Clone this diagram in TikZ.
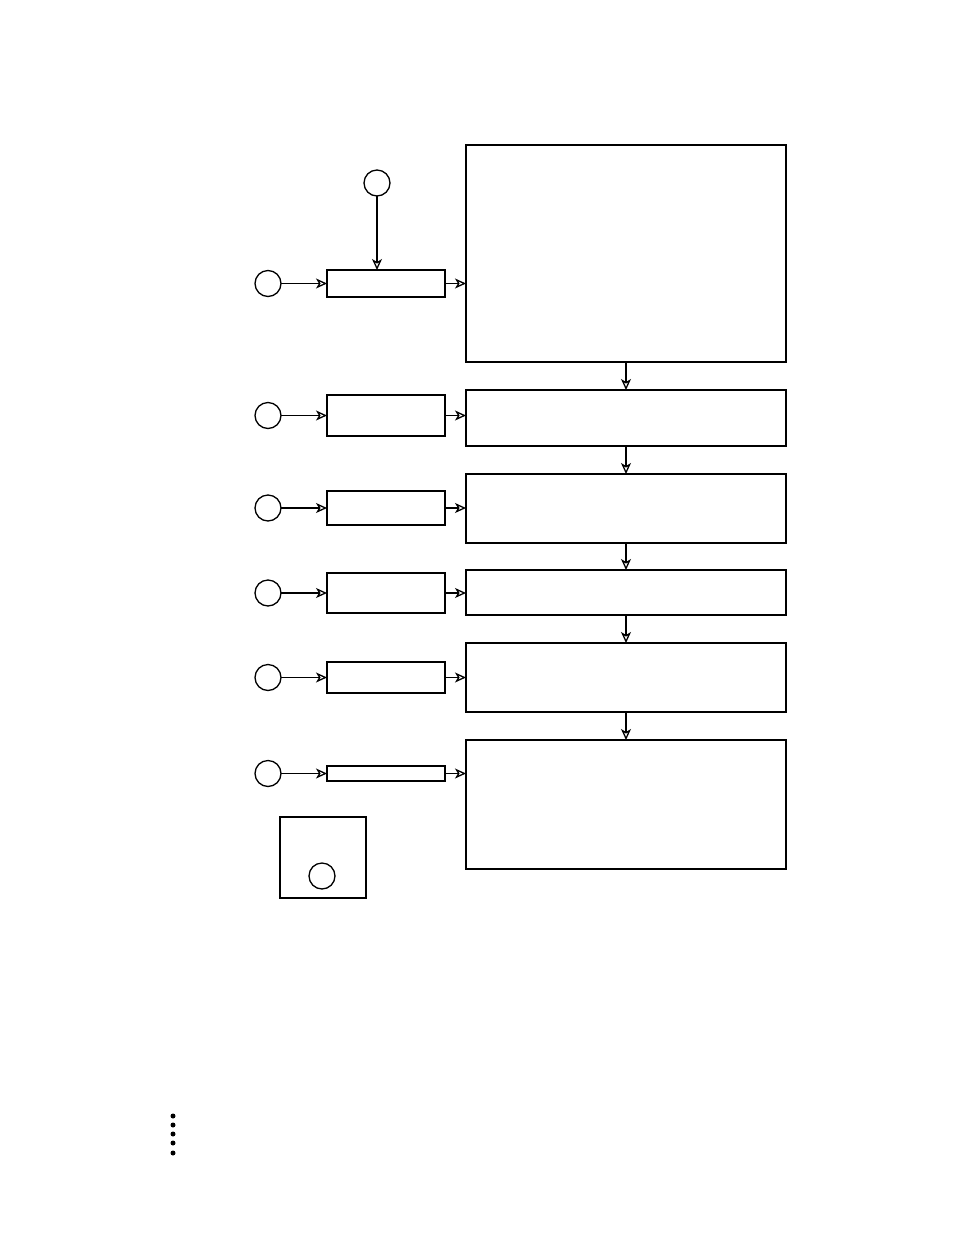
\documentclass[tikz,border=0pt]{standalone}
\usetikzlibrary{arrows.meta}
\begin{document}
\begin{tikzpicture}[x=1pt,y=-1pt,
  line width=1.3pt,
  circ/.style={draw,circle,minimum size=26pt,inner sep=0pt,outer sep=0pt},
  smallbox/.style={draw,rectangle,minimum width=118pt,inner sep=0pt,outer sep=0pt},
  bigbox/.style={draw,rectangle,minimum width=320pt,inner sep=0pt,outer sep=0pt},
  dotnode/.style={fill,circle,minimum size=5pt,inner sep=0pt},
  arr/.style={-{Stealth[open,length=11pt,width=10pt,inset=3pt]}}]
\useasboundingbox (0,0) rectangle (954,1235);
% right boxes
\node[bigbox,minimum height=217pt] (r1) at (626,253.5) {};
\node[bigbox,minimum height=56pt] (r2) at (626,418) {};
\node[bigbox,minimum height=69pt] (r3) at (626,508.5) {};
\node[bigbox,minimum height=45pt] (r4) at (626,592.5) {};
\node[bigbox,minimum height=69pt] (r5) at (626,677.5) {};
\node[bigbox,minimum height=129pt] (r6) at (626,804.5) {};
% small boxes
\node[smallbox,minimum height=27pt] (b1) at (386,283.5) {};
\node[smallbox,minimum height=41pt] (b2) at (386,415.5) {};
\node[smallbox,minimum height=34pt] (b3) at (386,508) {};
\node[smallbox,minimum height=40pt] (b4) at (386,593) {};
\node[smallbox,minimum height=31pt] (b5) at (386,677.5) {};
\node[smallbox,minimum height=15pt] (b6) at (386,773.5) {};
% circles
\node[circ] (c0) at (377,183) {};
\node[circ] (c1) at (268,283.5) {};
\node[circ] (c2) at (268,415.5) {};
\node[circ] (c3) at (268,508) {};
\node[circ] (c4) at (268,593) {};
\node[circ] (c5) at (268,677.5) {};
\node[circ] (c6) at (268,773.5) {};
% legend box
\node[draw,rectangle,minimum width=86pt,minimum height=81pt,inner sep=0pt] (leg) at (323,857.5) {};
\node[circ] (lc) at (322,876) {};
% arrows
\draw[arr] (c0) -- (c0 |- b1.north);
\foreach \i in {1,...,6} {
  \draw[arr] (c\i) -- (c\i -| b\i.west);
  \draw[arr] (b\i) -- (b\i -| r\i.west);
}
\draw[arr] (r1) -- (r2.north);
\draw[arr] (r2) -- (r3.north);
\draw[arr] (r3) -- (r4.north);
\draw[arr] (r4) -- (r5.north);
\draw[arr] (r5) -- (r6.north);
% dots
\node[dotnode] (d1) at (173,1116) {};
\node[dotnode] (d2) at (173,1125) {};
\node[dotnode] (d3) at (173,1134) {};
\node[dotnode] (d4) at (173,1143) {};
\node[dotnode] (d5) at (173,1153) {};
\end{tikzpicture}
\end{document}
